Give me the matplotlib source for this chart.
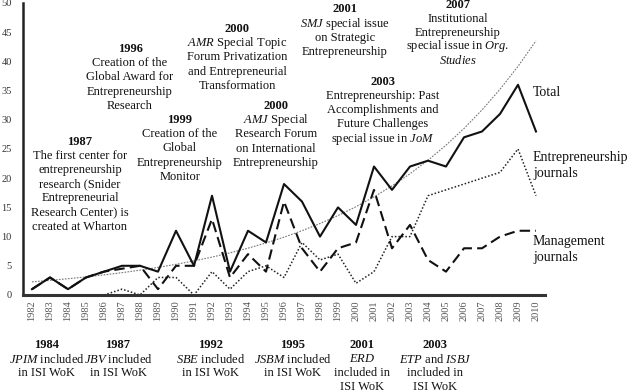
import numpy as np
import matplotlib
matplotlib.use("Agg")
import matplotlib.pyplot as plt

plt.rcParams['font.family'] = ['Liberation Serif', 'DejaVu Serif']
plt.rcParams['mathtext.fontset'] = 'custom'
plt.rcParams['mathtext.rm'] = 'Liberation Serif'
plt.rcParams['mathtext.it'] = 'Liberation Serif:italic'
plt.rcParams['mathtext.bf'] = 'Liberation Serif:bold'

years = list(range(1982, 2011))
total = [1, 3, 1, 3, 4, 5, 5, 4, 11, 5, 17, 4, 11, 9, 19, 16, 10, 15, 12,
         22, 18, 22, 23, 22, 27, 28, 31, 36, 28]
management = [1, 3, 1, 3, 4, 4.5, 5, 1, 5, 5, 13, 3, 7, 4, 16, 8, 4, 8, 9,
              18, 8, 12, 6, 4, 8, 8, 10, 11, 11]
entrepreneurship = [None, None, None, None, 0, 1, 0, 3, 3, 0, 4, 1, 4, 5, 3, 9, 6, 7, 2,
                    4, 10, 10, 17, 18, 19, 20, 21, 25, 17]
yticks = list(range(0, 51, 5))

top_notes = [
    ("1987", ["The first center for", "entrepreneurship", "research (Snider",
              "Entrepreneurial", "Research Center) is", "created at Wharton"]),
    ("1996", ["Creation of the", "Global Award for", "Entrepreneurship", "Research"]),
    ("1999", ["Creation of the", "Global", "Entrepreneurship", "Monitor"]),
    ("2000", [r"$\mathit{AMR}$ Special Topic", "Forum Privatization",
              "and Entrepreneurial", "Transformation"]),
    ("2000", [r"$\mathit{AMJ}$ Special", "Research Forum", "on International",
              "Entrepreneurship"]),
    ("2001", [r"$\mathit{SMJ}$ special issue", "on Strategic", "Entrepreneurship"]),
    ("2007", ["Institutional", "Entrepreneurship", r"special issue in $\mathit{Org.}$",
              r"$\mathit{Studies}$"]),
    ("2003", ["Entrepreneurship: Past", "Accomplishments and", "Future Challenges",
              r"special issue in $\mathit{JoM}$"]),
]
bottom_notes = [
    ("1984", [r"$\mathit{JPIM}$ included", "in ISI WoK"]),
    ("1987", [r"$\mathit{JBV}$ included", "in ISI WoK"]),
    ("1992", [r"$\mathit{SBE}$ included", "in ISI WoK"]),
    ("1995", [r"$\mathit{JSBM}$ included", "in ISI WoK"]),
    ("2001", [r"$\mathit{ERD}$", "included in", "ISI WoK"]),
    ("2003", [r"$\mathit{ETP}$ and $\mathit{ISBJ}$", "included in", "ISI WoK"]),
]

W, H = 632, 392
fig = plt.figure(figsize=(W / 100, H / 100), dpi=100)
ax = fig.add_axes([23 / W, 1 - 295 / H, 522 / W, 292 / H])

yrs = np.array(years)
# exponential trend of the total series
coef = np.polyfit(yrs - yrs[0], np.log(np.array(total, float)), 1)
trend = np.exp(np.polyval(coef, yrs - yrs[0]))
ax.plot(yrs, trend, color='#777777', lw=0.8, linestyle=(0, (1.5, 1.2)), zorder=1)

ent = np.array([np.nan if v is None else v for v in entrepreneurship], float)
ax.plot(yrs, ent, color='#222222', lw=1.1, linestyle=(0, (1, 1.3)), zorder=2)
ax.plot(yrs, management, color='#111111', lw=1.5, linestyle=(0, (5, 2.5)), zorder=3)
ax.plot(yrs, total, color='#111111', lw=1.5, zorder=4)

ax.set_xlim(1981.5, 2010.5)
ax.set_ylim(0, 50)
ax.set_xticks(years)
ax.set_xticklabels([str(y) for y in years], rotation=90, fontsize=7.5, color='#555555')
ax.set_yticks(yticks)
ax.set_yticklabels([str(v) for v in yticks], fontsize=7.5, color='#333333')
ax.tick_params(axis='both', length=0, pad=4)
ax.tick_params(axis='y', pad=8)
for s in ['top', 'right']:
    ax.spines[s].set_visible(False)
ax.spines['left'].set_linewidth(1.8)
ax.spines['bottom'].set_linewidth(2.2)
ax.spines['left'].set_color('#222222')
ax.spines['bottom'].set_color('#333333')
ax.patch.set_alpha(0)

def put(x, y, s, **kw):
    fig.text(x / W, 1 - y / H, s, ha='center', va='center', color='#111111', **kw)

top_layout = [(80, 141.7), (130, 49), (180, 120), (237, 29), (276, 106),
              (345, 9.5), (458, 5), (383, 81.7)]
for (yr, lines), (xc, yc) in zip(top_notes, top_layout):
    put(xc, yc, yr, fontsize=9, fontweight='bold')
    step = 13.8 if yr == "2007" else 14.2
    for i, ln in enumerate(lines):
        put(xc, yc + step * (i + 1), ln, fontsize=9)

bottom_layout = [47, 118, 211, 293, 362, 435]
for (yr, lines), xc in zip(bottom_notes, bottom_layout):
    put(xc, 345, yr, fontsize=9, fontweight='bold')
    for i, ln in enumerate(lines):
        put(xc, 359.5 + 13.5 * i, ln, fontsize=9)

def rlabel(y, s):
    fig.text(533 / W, 1 - y / H, s, ha='left', va='center', fontsize=10, color='#111111')

rlabel(93, "Total")
rlabel(157.7, "Entrepreneurship")
rlabel(173.5, "journals")
rlabel(241.7, "Management")
rlabel(257.5, "journals")

fig.savefig("out.png", dpi=100)
